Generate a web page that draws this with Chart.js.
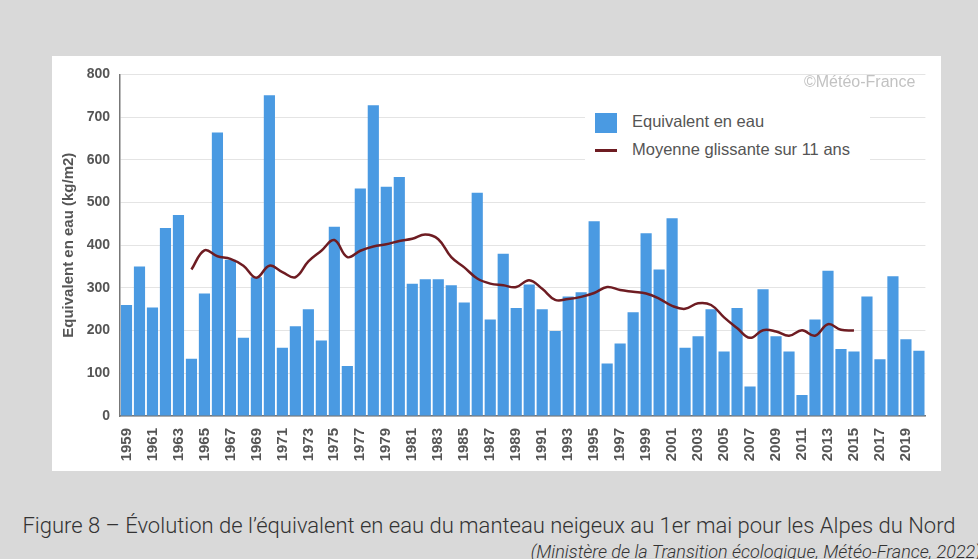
<!DOCTYPE html>
<html>
<head>
<meta charset="utf-8">
<script src="https://cdn.jsdelivr.net/npm/chart.js@4/dist/chart.umd.min.js"></script>
<style>
  body { margin: 0; background: #d9d9d9; width: 978px; height: 559px; overflow: hidden; position: relative; font-family: "Liberation Sans", Arial, sans-serif; }
  #panel { position: absolute; left: 52px; top: 56px; width: 889px; height: 415px; background: #fff; }
  #panel canvas { position: absolute; left: 0; top: 0; }
  .legend { position: absolute; left: 533px; top: 44px; width: 285px; height: 70px; background: #fff; }
  .legend .item { position: absolute; left: 10px; color: #555; font-size: 16.5px; white-space: nowrap; }
  .legend .swatch { display: inline-block; vertical-align: middle; margin-right: 15px; }
  .mark { position: absolute; left: 752px; top: 17px; color: #c2c2c2; font-size: 16px; }
  .caption { position: absolute; left: 0; width: 978px; text-align: center; top: 513px; font-family: Roboto, sans-serif; font-weight: 300; font-size: 22px; color: #333; }
  .source { position: absolute; right: -3px; top: 541px; font-family: Roboto, sans-serif; font-weight: 300; font-style: italic; font-size: 18px; color: #333; white-space: nowrap; }
</style>
</head>
<body>
<div id="panel">
  <canvas id="snowChart" width="889" height="415"></canvas>
  <div class="mark">&copy;Météo-France</div>
  <div class="legend">
    <div class="item" style="top:12px;"><span class="swatch" style="width:22px;height:20px;background:#4a9ae2;"></span>Equivalent en eau</div>
    <div class="item" style="top:40px;"><span class="swatch" style="width:22px;height:3px;background:#6e1c22;"></span>Moyenne glissante sur 11 ans</div>
  </div>
</div>
<div class="caption">Figure 8 – Évolution de l’équivalent en eau du manteau neigeux au 1er mai pour les Alpes du Nord</div>
<div class="source">(Ministère de la Transition écologique, Météo-France, 2022)</div>

<script>
// Years 1959 - 2020
const years = ['1959','1960','1961','1962','1963','1964','1965','1966','1967','1968',
    '1969','1970','1971','1972','1973','1974','1975','1976','1977','1978',
    '1979','1980','1981','1982','1983','1984','1985','1986','1987','1988',
    '1989','1990','1991','1992','1993','1994','1995','1996','1997','1998',
    '1999','2000','2001','2002','2003','2004','2005','2006','2007','2008',
    '2009','2010','2011','2012','2013','2014','2015','2016','2017','2018',
    '2019','2020'];

// Snow water equivalent on 1 May (kg/m2)
const waterEquiv = [260, 350, 254, 440, 471, 134, 287, 664, 366, 183,
    325, 751, 160, 210, 250, 177, 443, 117, 533, 728,
    537, 560, 310, 320, 320, 306, 266, 523, 226, 380,
    253, 308, 250, 199, 280, 290, 456, 123, 170, 243,
    428, 343, 463, 160, 187, 250, 151, 253, 69, 297,
    187, 151, 49, 226, 340, 157, 151, 280, 133, 327,
    180, 153];

// 11-year moving average (centred, 1964 - 2015)
const movingAvg = [null, null, null, null, null, 343, 388, 374, 368, 352,
    324, 352, 337, 325, 362, 387, 412, 372, 387, 397,
    402, 410, 415, 425, 414, 372, 348, 322, 310, 306,
    302, 318, 298, 272, 274, 279, 288, 302, 295, 291,
    287, 275, 258, 251, 264, 260, 231, 206, 183, 201,
    198, 188, 201, 188, 215, 202, 200, null, null, null,
    null, null];

const yTicks = [0, 100, 200, 300, 400, 500, 600, 700, 800];

function initSnowChart() {
    const ctx = document.getElementById('snowChart').getContext('2d');
    const snowChart = new Chart(ctx, {
        data: {
            labels: years,
            datasets: [{
                type: 'line',
                label: 'Moyenne glissante sur 11 ans',
                data: movingAvg,
                borderColor: '#6e1c22',
                borderWidth: 2.5,
                pointRadius: 0,
                tension: 0.4,
                spanGaps: false,
                order: 0
            }, {
                type: 'bar',
                label: 'Equivalent en eau',
                data: waterEquiv,
                backgroundColor: '#4a9ae2',
                categoryPercentage: 1,
                barPercentage: 0.86,
                order: 1
            }]
        },
        options: {
            responsive: false,
            animation: false,
            layout: { padding: { left: 4, top: 13, right: 10, bottom: 0 } },
            plugins: { legend: { display: false }, tooltip: { enabled: false } },
            scales: {
                x: {
                    grid: { display: false },
                    border: { display: true, color: '#777', width: 1.5 },
                    ticks: {
                        autoSkip: false,
                        minRotation: 90,
                        maxRotation: 90,
                        padding: 4,
                        color: '#555',
                        font: { family: 'Liberation Sans', size: 15, weight: 'bold' },
                        callback: function (val, i) { return i % 2 === 0 ? years[i] : ''; }
                    },
                    afterFit: function (scale) { scale.height = 55; }
                },
                y: {
                    min: 0,
                    max: 800,
                    afterBuildTicks: function (scale) { scale.ticks = yTicks.map(v => ({ value: v })); },
                    grid: { color: '#e4e4e4', drawTicks: false },
                    border: { display: true, color: '#777', width: 1.5 },
                    ticks: {
                        padding: 10,
                        color: '#555',
                        font: { family: 'Liberation Sans', size: 14, weight: 'bold' }
                    },
                    title: {
                        display: true,
                        text: 'Equivalent en eau (kg/m2)',
                        color: '#555',
                        font: { family: 'Liberation Sans', size: 15, weight: 'bold' }
                    },
                    afterFit: function (scale) { scale.width = 64; }
                }
            }
        }
    });
}

window.onload = function () {
    initSnowChart();
};
</script>
</body>
</html>
